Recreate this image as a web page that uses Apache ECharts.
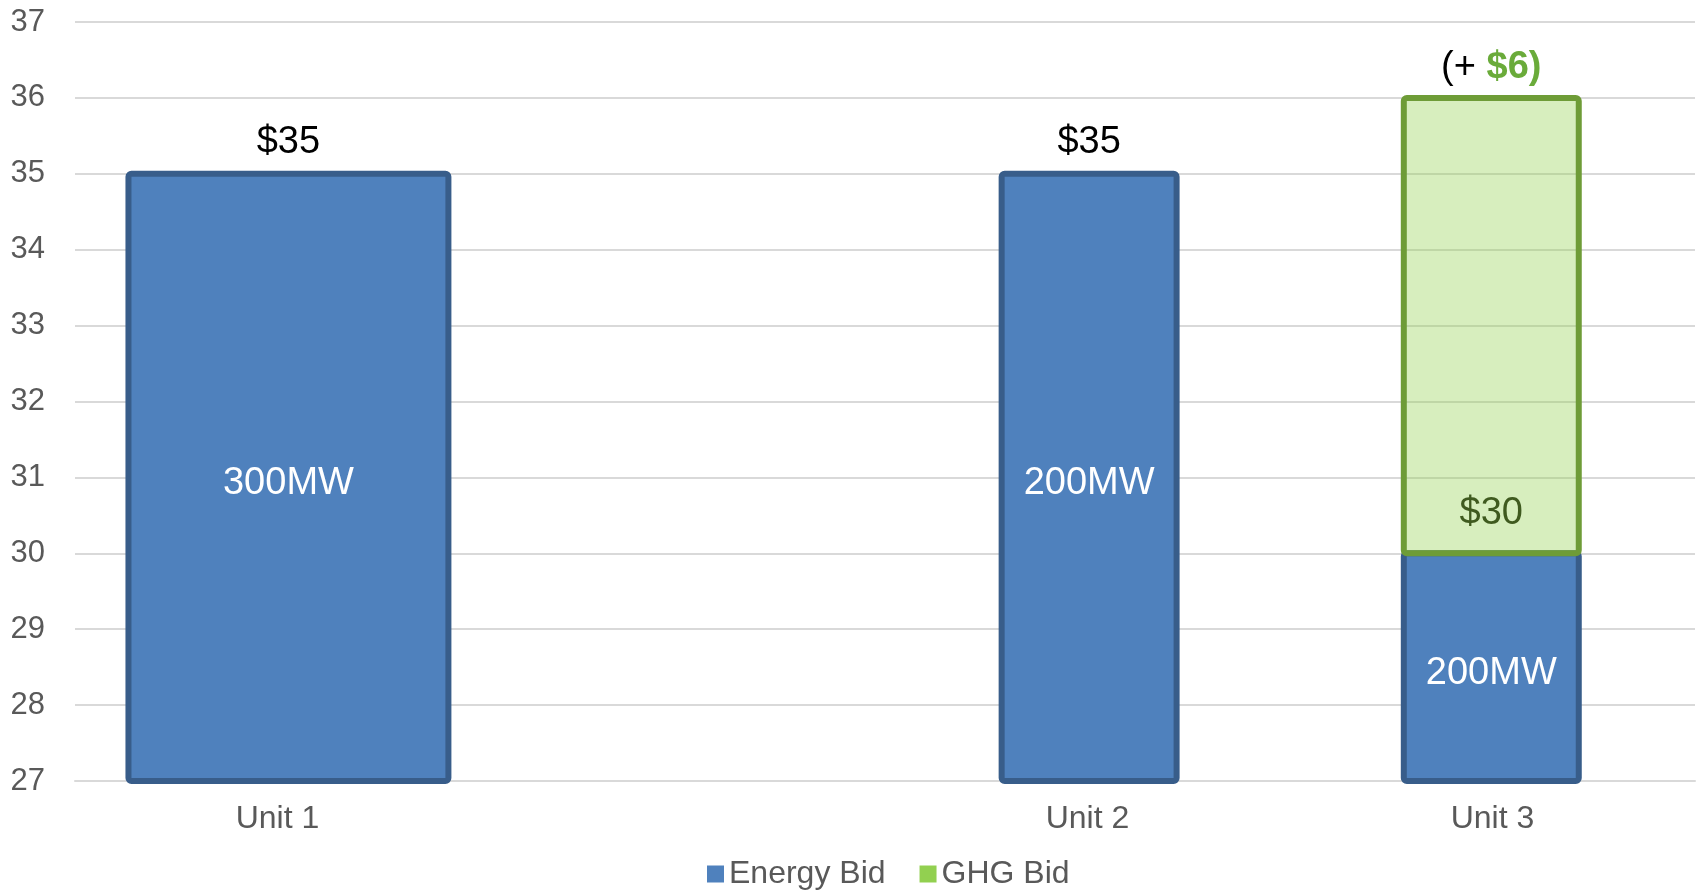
<!DOCTYPE html>
<html>
<head>
<meta charset="utf-8">
<script src="https://cdn.jsdelivr.net/npm/echarts@6/dist/echarts.min.js"></script>
<style>
  html, body { margin: 0; padding: 0; background: #fff; }
  #chart { width: 1698px; height: 890px; }
</style>
</head>
<body>
<div id="chart"></div>
<script>
// ---- data ----
const categories = ['Unit 1', '', 'Unit 2', 'Unit 3'];
const energyBid = [35, null, 35, 30];
const ghgBid = [null, null, null, 6];
const capacityLabels = ['300MW', '', '200MW', '200MW'];
const priceLabels = ['$35', '', '$35', '$30'];
const ghgLabels = ['', '', '', '$6'];
const yMin = 27, yMax = 37, yStep = 1;

// ---- layout (not data) ----
const barWidthFrac = [0.79, 0, 0.432, 0.432];
const barOffsetFrac = [0.027, 0, 0.004, -0.003];
const FONT = '"Liberation Sans", Arial, sans-serif';

const energyData = [];
energyBid.forEach((v, i) => { if (v != null) energyData.push([i, v]); });
const ghgData = [];
ghgBid.forEach((v, i) => { if (v != null) ghgData.push([i, energyBid[i], energyBid[i] + v]); });

function geom(params, api, i) {
  const band = api.size([1, 0])[0];
  const w = band * barWidthFrac[i];
  const cx = api.coord([i, yMin])[0] + band * barOffsetFrac[i];
  return { w, cx };
}

function renderEnergy(params, api) {
  const i = api.value(0);
  const v = api.value(1);
  const g = geom(params, api, i);
  const cs = params.coordSys;
  const yTop = api.coord([i, v])[1];
  const yBot = cs.y + cs.height;
  const children = [{
    type: 'rect',
    shape: { x: g.cx - g.w / 2, y: yTop, width: g.w, height: yBot - yTop, r: 3 },
    style: { fill: '#4F81BD', stroke: '#385D8A', lineWidth: 6 }
  }, {
    type: 'text', x: g.cx, y: (yTop + yBot) / 2 + 6,
    style: { text: capacityLabels[i], fill: '#ffffff', font: '38px ' + FONT, align: 'center', verticalAlign: 'middle' }
  }];
  if (ghgBid[i] == null) {
    children.push({
      type: 'text', x: g.cx, y: yTop - 31,
      style: { text: priceLabels[i], fill: '#000000', font: '38px ' + FONT, align: 'center', verticalAlign: 'middle' }
    });
  }
  return { type: 'group', children };
}

function renderGhg(params, api) {
  const i = api.value(0);
  const base = api.value(1);
  const top = api.value(2);
  const g = geom(params, api, i);
  const yTop = api.coord([i, top])[1];
  const yBot = api.coord([i, base])[1];
  return {
    type: 'group',
    children: [{
      type: 'rect',
      shape: { x: g.cx - g.w / 2, y: yTop, width: g.w, height: yBot - yTop, r: 3 },
      style: { fill: 'rgba(146,208,80,0.37)', stroke: '#6E9C37', lineWidth: 6 }
    }, {
      type: 'text', x: g.cx, y: yBot - 40,
      style: { text: priceLabels[i], fill: '#3F5A1F', font: '38px ' + FONT, align: 'center', verticalAlign: 'middle' }
    }, {
      type: 'text', x: g.cx, y: yTop - 30,
      style: {
        text: '{a|(+ }{b|' + ghgLabels[i] + ')}',
        align: 'center', verticalAlign: 'middle',
        rich: {
          a: { fontFamily: FONT, fontSize: 38, fill: '#000000', color: '#000000' },
          b: { fontFamily: FONT, fontSize: 38, fontWeight: 'bold', fill: '#6AAB3A', color: '#6AAB3A' }
        }
      }
    }]
  };
}

const chart = echarts.init(document.getElementById('chart'), null, { renderer: 'canvas' });
chart.setOption({
  animation: false,
  backgroundColor: '#ffffff',
  grid: { left: 75, right: 3, top: 22, bottom: 109, containLabel: false },
  legend: {
    data: ['Energy Bid', 'GHG Bid'],
    left: 702, top: 853,
    icon: 'rect', itemWidth: 17, itemHeight: 17, itemGap: 34,
    itemStyle: { borderWidth: 0 },
    textStyle: { fontFamily: FONT, fontSize: 32, color: '#595959' }
  },
  xAxis: {
    type: 'category',
    data: categories,
    axisLine: { show: true, lineStyle: { color: '#D9D9D9', width: 2 } },
    axisTick: { show: false },
    axisLabel: { fontFamily: FONT, fontSize: 32, color: '#595959', margin: 22, interval: 0 },
    splitLine: { show: false }
  },
  yAxis: {
    type: 'value',
    min: yMin, max: yMax, interval: yStep,
    axisLine: { show: false },
    axisTick: { show: false },
    axisLabel: { fontFamily: FONT, fontSize: 31, color: '#595959', margin: 30 },
    splitLine: { lineStyle: { color: '#D9D9D9', width: 2 } }
  },
  series: [{
    name: 'Energy Bid',
    type: 'custom',
    renderItem: renderEnergy,
    itemStyle: { color: '#4F81BD' },
    encode: { x: 0, y: 1 },
    data: energyData,
    z: 2
  }, {
    name: 'GHG Bid',
    type: 'custom',
    renderItem: renderGhg,
    itemStyle: { color: '#92D050' },
    encode: { x: 0, y: [1, 2] },
    data: ghgData,
    z: 3
  }]
});
</script>
</body>
</html>
